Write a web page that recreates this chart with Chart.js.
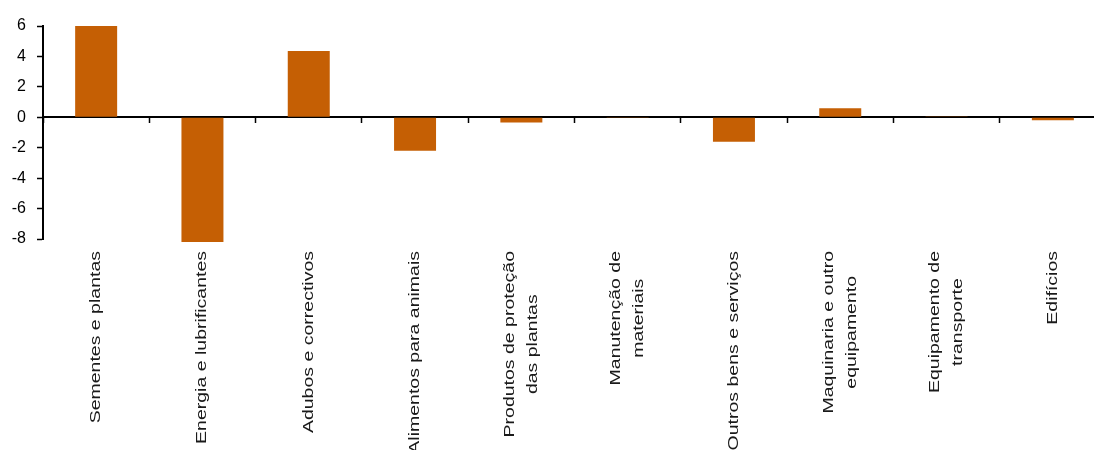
<!DOCTYPE html>
<html>
<head>
<meta charset="utf-8">
<script src="https://cdn.jsdelivr.net/npm/chart.js@4/dist/chart.umd.min.js"></script>
<style>
    html, body { margin: 0; padding: 0; background: #fff; overflow: hidden; }
    #wrap { position: absolute; left: 0; top: 0; width: 1106px; height: 450px; }
</style>
</head>
<body>
<div id="wrap"><canvas id="costChart"></canvas></div>
<script>
// ----------------------------------------
// Data
// ----------------------------------------

const categories = [
    ["Sementes e plantas"],
    ["Energia e lubrificantes"],
    ["Adubos e correctivos"],
    ["Alimentos para animais"],
    ["Produtos de proteção", "das plantas"],
    ["Manutenção de", "materiais"],
    ["Outros bens e serviços"],
    ["Maquinaria e outro", "equipamento"],
    ["Equipamento de", "transporte"],
    ["Edifícios"]
];

const changes = [6.0, -8.2, 4.35, -2.2, -0.35, -0.05, -1.6, 0.6, 0.05, -0.2];

const yTicks = [-8, -6, -4, -2, 0, 2, 4, 6];

// ----------------------------------------
// Rotated category labels (tall, narrow lettering)
// ----------------------------------------

const categoryLabels = {
    id: "categoryLabels",
    afterDraw(chart) {
        const ctx = chart.ctx;
        const xScale = chart.scales.x;
        const top = chart.chartArea.bottom + 12;
        const lineGap = 23;
        const squeeze = 0.72;

        ctx.save();
        ctx.font = "19.5px 'Liberation Sans', Arial, sans-serif";
        ctx.fillStyle = "#1a1a1a";
        ctx.textAlign = "center";
        ctx.textBaseline = "middle";

        categories.forEach((lines, i) => {
            const cx = xScale.getPixelForValue(i);
            const longest = Math.max(...lines.map((l) => ctx.measureText(l).width));
            lines.forEach((line, j) => {
                const dx = (j - (lines.length - 1) / 2) * lineGap;
                ctx.save();
                ctx.translate(cx + dx, top + longest / 2);
                ctx.rotate(-Math.PI / 2);
                ctx.scale(1, squeeze);
                ctx.fillText(line, 0, 0);
                ctx.restore();
            });
        });
        ctx.restore();
    }
};

// ----------------------------------------
// Chart
// ----------------------------------------

new Chart(document.getElementById("costChart"), {
    type: "bar",
    data: {
        labels: categories.map((c) => c.join(" ")),
        datasets: [
            {
                data: changes,
                backgroundColor: "#c55f04",
                borderWidth: 0,
                barPercentage: 0.395,
                categoryPercentage: 1,
                clip: false
            }
        ]
    },
    options: {
        responsive: true,
        maintainAspectRatio: false,
        animation: false,
        layout: { padding: { top: 26, bottom: 211, left: 0, right: 0 } },
        plugins: {
            legend: { display: false },
            tooltip: { enabled: false }
        },
        scales: {
            x: {
                position: { y: 0 },
                offset: true,
                ticks: { display: false },
                grid: {
                    offset: true,
                    drawOnChartArea: false,
                    tickLength: 5,
                    tickColor: "#000",
                    tickWidth: 1.5
                },
                border: { display: true, color: "#000", width: 2 }
            },
            y: {
                min: -8,
                max: 6,
                afterFit(scale) {
                    scale.width = 43;
                },
                afterBuildTicks(scale) {
                    scale.ticks = yTicks.map((v) => ({ value: v }));
                },
                ticks: {
                    padding: 11,
                    color: "#000",
                    font: { family: "'Liberation Sans', Arial, sans-serif", size: 16 }
                },
                grid: {
                    drawOnChartArea: false,
                    tickLength: 6,
                    tickColor: "#000",
                    tickWidth: 1.5
                },
                border: { display: true, color: "#000", width: 2 }
            }
        }
    },
    plugins: [categoryLabels]
});
</script>
</body>
</html>
